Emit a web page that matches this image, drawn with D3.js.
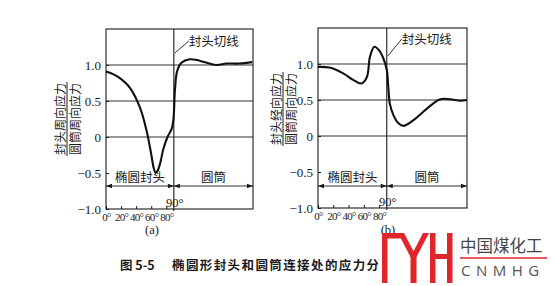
<!DOCTYPE html>
<html><head><meta charset="utf-8">
<script src="https://cdn.jsdelivr.net/npm/d3@7"></script>
<style>html,body{margin:0;padding:0;background:#fff;overflow:hidden}svg{display:block}</style>
</head><body>
<script>
// ---- data ----
const xTickValues = [0, 20, 40, 60, 80];
const xTickLabels = ["0°", "20°", "40°", "60°", "80°"];
const yTickValues = [1.0, 0.5, 0, -0.5, -1.0];
const yTickLabels = ["1.0", "0.5", "0", "−0.5", "−1.0"];
const gridValues = [1.0, 0.5, 0];
const tangentDeg = 90;
const sectionLabels = ["椭圆封头", "圆筒"];

const degA = [0, 10, 18, 32, 45, 54, 60, 63.5, 66, 68.5, 72, 76, 82, 87, 89.5, 91.5, 94.5, 100, 111, 124, 146, 160, 177, 194];
const valA = [0.91, 0.87, 0.82, 0.68, 0.41, 0.08, -0.24, -0.44, -0.50, -0.47, -0.36, -0.17, 0.01, 0.11, 0.25, 0.66, 0.92, 1.03, 1.08, 1.06, 1.0, 1.02, 1.02, 1.04];

const degB = [0, 15, 33, 46, 57, 64, 68, 73.7, 80, 85.5, 90, 92, 94, 98.7, 105, 111.8, 125, 142.6, 160, 173, 186, 195];
const valB = [0.96, 0.95, 0.87, 0.78, 0.73, 0.82, 1.10, 1.24, 1.19, 1.08, 0.92, 0.68, 0.45, 0.29, 0.18, 0.14, 0.22, 0.38, 0.51, 0.51, 0.49, 0.50];

const titleA = ["封头周向应力", "圆筒周向应力"];
const titleB = ["封头经向应力", "圆筒周向应力"];
const caption = ["图 5-5", "椭圆形封头和圆筒连接处的应力分布"];

// ---- drawing ----
const W = 554, H = 286;
const svg = d3.select("body").append("svg").attr("width", W).attr("height", H);
svg.append("rect").attr("width", W).attr("height", H).attr("fill", "#fff");

const serif = "'Liberation Serif','DejaVu Serif',serif";
const cjk = "'Noto Sans CJK SC','Noto Sans CJK JP',sans-serif";
const ink = "#1a1a1a";

function panel(cfg) {
  const g = svg.append("g");
  const x = d3.scaleLinear().domain([0, 195]).range([cfg.left, cfg.right]);
  const y = d3.scaleLinear().domain([-1, 1.5]).range([cfg.bottom, cfg.top]);

  g.append("rect").attr("x", cfg.left).attr("y", cfg.top)
    .attr("width", cfg.right - cfg.left).attr("height", cfg.bottom - cfg.top)
    .attr("fill", "none").attr("stroke", ink).attr("stroke-width", 1.1);

  g.selectAll(".grid").data(gridValues).join("line")
    .attr("x1", cfg.left).attr("x2", cfg.right)
    .attr("y1", d => y(d)).attr("y2", d => y(d))
    .attr("stroke", ink).attr("stroke-width", 0.9);

  const yAxis = d3.axisLeft(y).tickValues(yTickValues).tickSize(-3)
    .tickFormat((d, i) => yTickLabels[i]).tickPadding(5);
  const ya = g.append("g").attr("transform", `translate(${cfg.left},0)`).call(yAxis);
  ya.select(".domain").remove();
  ya.selectAll("line").attr("stroke", ink);
  ya.selectAll("text").attr("font-family", serif).attr("font-size", 13).attr("fill", ink);

  const xAxis = d3.axisBottom(x).tickValues(xTickValues).tickSize(-3)
    .tickFormat((d, i) => xTickLabels[i]).tickPadding(4);
  const xa = g.append("g").attr("transform", `translate(0,${cfg.bottom})`).call(xAxis);
  xa.select(".domain").remove();
  xa.selectAll("line").attr("stroke", ink);
  xa.selectAll("text").attr("font-family", serif).attr("font-size", 11)
    .attr("letter-spacing", -0.7).attr("fill", ink);

  const xt = x(tangentDeg);
  g.append("line").attr("x1", xt).attr("x2", xt).attr("y1", cfg.top).attr("y2", cfg.bottom + 2)
    .attr("stroke", ink).attr("stroke-width", 1.1);
  g.append("text").attr("x", xt + 1).attr("y", cfg.bottom - 2).attr("text-anchor", "middle")
    .attr("font-family", serif).attr("font-size", 12.5).attr("fill", ink).text("90°");

  const yd = cfg.dimY;
  const segs = [[x(0), xt, sectionLabels[0]], [xt, x(195), sectionLabels[1]]];
  segs.forEach(([a, b, lab]) => {
    g.append("line").attr("x1", a).attr("x2", b).attr("y1", yd).attr("y2", yd)
      .attr("stroke", ink).attr("stroke-width", 0.9);
    g.append("path").attr("d", `M${a},${yd}l6,-2.2l0,4.4z`).attr("fill", ink);
    g.append("path").attr("d", `M${b},${yd}l-6,-2.2l0,4.4z`).attr("fill", ink);
    g.append("text").attr("x", (a + b) / 2).attr("y", yd - 4).attr("text-anchor", "middle")
      .attr("font-family", cjk).attr("font-size", 12.5).attr("fill", ink).text(lab);
  });

  const pts = cfg.deg.map((d, i) => [d, cfg.val[i]]);
  g.append("path").datum(pts)
    .attr("d", d3.line().x(d => x(d[0])).y(d => y(d[1])).curve(d3.curveCatmullRom.alpha(0.5)))
    .attr("fill", "none").attr("stroke", "#111").attr("stroke-width", 2.1)
    .attr("stroke-linejoin", "round");

  g.append("line").attr("x1", xt + 1).attr("y1", cfg.leadY0)
    .attr("x2", xt + 15).attr("y2", cfg.leadY1).attr("stroke", ink).attr("stroke-width", 0.9);
  g.append("text").attr("x", xt + 15).attr("y", cfg.leadY1 + 5)
    .attr("font-family", cjk).attr("font-size", 12.5).attr("fill", ink).text("封头切线");

  const tg = g.append("g").attr("transform", `translate(${cfg.titleX},${cfg.titleY}) rotate(-90)`);
  tg.append("text").attr("x", 0).attr("y", -2.5).attr("text-anchor", "middle")
    .attr("font-family", cjk).attr("font-size", 12).attr("fill", ink).text(cfg.title[0]);
  tg.append("line").attr("x1", -37).attr("x2", 37).attr("y1", 0).attr("y2", 0)
    .attr("stroke", ink).attr("stroke-width", 1);
  tg.append("text").attr("x", 0).attr("y", 12.5).attr("text-anchor", "middle")
    .attr("font-family", cjk).attr("font-size", 12).attr("fill", ink).text(cfg.title[1]);

  g.append("text").attr("x", cfg.subX).attr("y", 234).attr("text-anchor", "middle")
    .attr("font-family", serif).attr("font-size", 12.5).attr("fill", ink).text(cfg.sub);
}

panel({left: 106, right: 253, top: 29, bottom: 209, dimY: 186, deg: degA, val: valA,
  leadY0: 53, leadY1: 41, title: titleA, titleX: 67, titleY: 119, subX: 152, sub: "(a)"});
panel({left: 318, right: 467, top: 28, bottom: 208, dimY: 186, deg: degB, val: valB,
  leadY0: 56, leadY1: 39, title: titleB, titleX: 283, titleY: 109, subX: 388, sub: "(b)"});

svg.append("text").attr("x", 120).attr("y", 270).attr("font-family", cjk).attr("font-weight", 700)
  .attr("font-size", 12.5).attr("fill", ink).text(caption[0]);
svg.append("text").attr("x", 172).attr("y", 270).attr("font-family", cjk).attr("font-weight", 700)
  .attr("font-size", 12.5).attr("letter-spacing", 1.4).attr("fill", ink).text(caption[1]);

const red = "#e0262b";
const lg = svg.append("g");
lg.append("rect").attr("x", 378).attr("y", 240).attr("width", 176).attr("height", 46).attr("fill", "#fff");
lg.append("rect").attr("x", 382).attr("y", 233).attr("width", 5.5).attr("height", 50).attr("fill", red);
lg.append("rect").attr("x", 382).attr("y", 233).attr("width", 19).attr("height", 5.5).attr("fill", red);
lg.append("path").attr("d", "M398,233 L404,233 L416.5,257 L410.5,257 Z").attr("fill", red);
lg.append("path").attr("d", "M423,233 L429,233 L416.5,257 L410.5,257 Z").attr("fill", red);
lg.append("rect").attr("x", 410.5).attr("y", 255).attr("width", 6).attr("height", 28).attr("fill", red);
lg.append("rect").attr("x", 430).attr("y", 233).attr("width", 5.5).attr("height", 50).attr("fill", red);
lg.append("rect").attr("x", 447).attr("y", 233).attr("width", 5.5).attr("height", 50).attr("fill", red);
lg.append("rect").attr("x", 435).attr("y", 254).attr("width", 12).attr("height", 5).attr("fill", red);
lg.append("text").attr("x", 460).attr("y", 252).attr("font-family", cjk).attr("font-size", 16.5)
  .attr("fill", "#444").text("中国煤化工");
lg.append("line").attr("x1", 460).attr("x2", 547).attr("y1", 258).attr("y2", 258)
  .attr("stroke", red).attr("stroke-width", 1.5);
lg.append("text").attr("x", 461).attr("y", 276).attr("font-family", "'Open Sans',sans-serif").attr("font-size", 15)
  .attr("letter-spacing", 5.5).attr("fill", "#555").text("CNMHG");
</script>
</body></html>
